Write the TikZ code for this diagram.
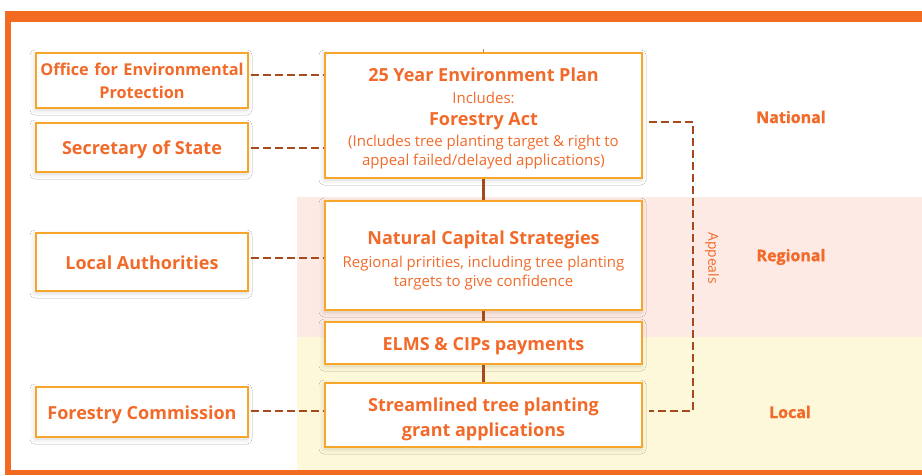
\documentclass[tikz,border=0pt]{standalone}
\usepackage{fontspec}
\setmainfont{Open Sans}
\newfontfamily\heavyfont[FakeBold=1.3]{Open Sans Bold}
\usetikzlibrary{shadows.blur}
\definecolor{frameorange}{HTML}{F36B22}
\definecolor{txtorange}{HTML}{F26A2A}
\definecolor{boxborder}{HTML}{F6A62A}
\definecolor{linkbrown}{HTML}{A54A1C}
\definecolor{bandpink}{HTML}{FDEAE4}
\definecolor{bandyellow}{HTML}{FEF8DA}
\tikzset{
  card/.style={draw=boxborder, line width=1.6pt, fill=white, text=txtorange,
    align=center, inner sep=0pt,
    blur shadow={shadow blur steps=6, shadow xshift=-1pt, shadow yshift=-2pt, shadow opacity=15, shadow blur radius=5pt}},
  sidecard/.style={card, minimum width=212pt},
  maincard/.style={card, minimum width=317pt},
  link/.style={draw=linkbrown, line width=2.6pt, dash pattern=on 8pt off 4pt},
  spine/.style={draw=linkbrown, line width=2.6pt},
  title/.style={font=\fontsize{18}{22}\selectfont\bfseries},
  level/.style={text=txtorange, font=\fontsize{16}{18}\selectfont\heavyfont},
}
\newcommand{\subtxt}{\fontsize{15}{22}\selectfont\mdseries}
% invisible strut that lowers a card's text block
\newcommand{\dropstrut}[1]{\rule{0pt}{#1}}
\begin{document}
\begin{tikzpicture}[x=1pt,y=-1pt]
\useasboundingbox (0,0) rectangle (922,475);
\fill[white] (0,0) rectangle (922,475);
% tier bands
\fill[bandpink] (297,197) rectangle (922,337);
\fill[bandyellow] (297,337) rectangle (922,470);
% outer frame
\fill[frameorange] (5,11) rectangle (922,22);
\fill[frameorange] (5,11) rectangle (11,475);
\fill[frameorange] (5,470) rectangle (922,475);

% spine stub above the plan card
\coordinate (stub) at (483.5,49);
\draw[draw=linkbrown!70, line width=1pt] (stub) -- (483.5,54);

% left column
\node[sidecard, minimum height=55pt, font=\fontsize{16.3}{22}\selectfont\bfseries, text width=212pt] (office) at (142,80.5)
  {Office for Environmental\\[1pt]Protection};
\node[sidecard, minimum height=49pt, title] (sec) at (142,147.5) {\dropstrut{17.5pt}Secretary of State};
\node[sidecard, minimum height=58pt, title] (la) at (142,262) {\dropstrut{15.5pt}Local Authorities};
\node[sidecard, minimum height=50pt, title] (fc) at (142,412) {\dropstrut{19.5pt}Forestry Commission};

% central column
\node[maincard, minimum height=125pt, title] (plan) at (483.5,115.5)
  {\dropstrut{19.8pt}25 Year Environment Plan\\
   {\subtxt Includes:}\\
   Forestry Act\\[-1pt]
   {\subtxt (Includes tree planting target \& right to}\\[-3pt]
   {\subtxt appeal failed/delayed applications)}};
\node[maincard, minimum height=109pt, title] (ncs) at (483.5,255.5)
  {\dropstrut{22.7pt}Natural Capital Strategies\\[1pt]
   {\subtxt Regional pririties, including tree planting}\\[-3pt]
   {\subtxt targets to give confidence}};
\node[maincard, minimum height=42pt, title] (elms) at (483.5,343) {\dropstrut{19.5pt}ELMS \& CIPs payments};
\node[maincard, minimum height=64pt, title] (str) at (483.5,415)
  {\dropstrut{21.7pt}Streamlined tree planting\\[3pt]grant applications};

% vertical spine
\draw[spine] (plan.south) -- (ncs.north);
\draw[spine] (ncs.south) -- (elms.north);
\draw[spine] (elms.south) -- (str.north);

% dashed links from the left column
\draw[link] ([xshift=2pt,yshift=5.5pt]office.east) -- ([yshift=5.5pt]office.east -| plan.west);
\draw[link] ([xshift=2pt,yshift=-0.5pt]sec.east) -- ([yshift=-0.5pt]sec.east -| plan.west);
\draw[link] ([xshift=2pt,yshift=4pt]la.east) -- ([yshift=4pt]la.east -| ncs.west);
\draw[link] ([xshift=2pt,yshift=1pt]fc.east) -- ([yshift=1pt]fc.east -| str.west);

% appeals route
\coordinate (apT) at (693,122);
\coordinate (apB) at (693,411);
\draw[link] ([xshift=6pt]plan.east |- apT) -- (apT) -- (apB) -- ([xshift=6pt]str.east |- apB);
\node[text=txtorange, rotate=-90, font=\fontsize{13.9}{15}\selectfont] (appeals) at (712,258) {Appeals};

% tier labels
\node[level] (national) at (791,117) {National};
\node[level] (regional) at (791,257) {Regional};
\node[level] (local) at (790,412) {Local};
\end{tikzpicture}
\end{document}
